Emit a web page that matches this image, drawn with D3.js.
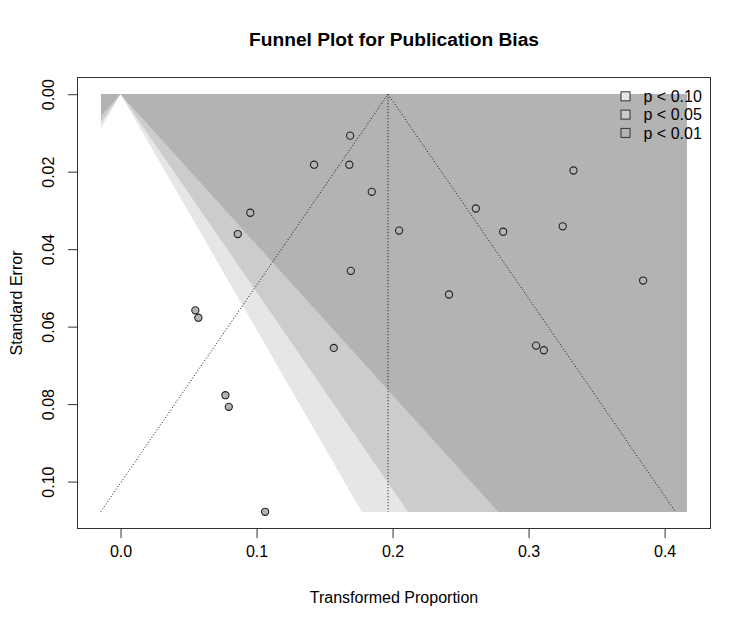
<!DOCTYPE html>
<html>
<head>
<meta charset="utf-8">
<script src="https://cdn.jsdelivr.net/npm/d3@7"></script>
<style>
  body { margin: 0; background: #fff; }
  svg text { font-family: "Liberation Sans", Arial, sans-serif; fill: #000; }
</style>
</head>
<body>
<div class="funnel"></div>
<script>
// study estimates (transformed proportions) and their standard errors
const yi = [0.1688, 0.1423, 0.1682, 0.1847, 0.0954, 0.0862, 0.2048, 0.2612, 0.3251, 0.3330, 0.2813,
            0.1693, 0.2415, 0.3842, 0.0550, 0.0572, 0.1568, 0.3055, 0.3112, 0.0771, 0.0796, 0.1063];
const sei = [0.0107, 0.0182, 0.0182, 0.0252, 0.0306, 0.0361, 0.0352, 0.0295, 0.0341, 0.0197, 0.0355,
             0.0456, 0.0517, 0.0481, 0.0558, 0.0577, 0.0655, 0.0649, 0.0661, 0.0777, 0.0807, 0.1078];
const estimate = 0.1967;
const xlim = [-0.0144, 0.4165];
const seMax = 0.1078;

// contour levels (z values), legend labels, shades
const contourZ = [1.645, 1.960, 2.576];
const legendLabels = ["p < 0.10", "p < 0.05", "p < 0.01"];
const shades = ["#e6e6e6", "#cccccc", "#b3b3b3"];

const xTicks = [0, 0.1, 0.2, 0.3, 0.4];
const yTicks = [0, 0.02, 0.04, 0.06, 0.08, 0.10];

var W = 750, H = 625;
var box = {left: 77.5, top: 77.5, right: 710.5, bottom: 528.5};

var svg = d3.select(".funnel").append("svg")
  .attr("width", W)
  .attr("height", H);

// R style 4% extension of the axis limits
var xr = xlim[1] - xlim[0];
var xScale = d3.scaleLinear()
  .domain([xlim[0] - 0.04 * xr, xlim[1] + 0.04 * xr])
  .range([box.left, box.right]);
var yScale = d3.scaleLinear()
  .domain([-0.04 * seMax, seMax * 1.04])
  .range([box.top, box.bottom]);

// whole-pixel shading area so the clipped edges stay clean
var sx0 = Math.round(xScale(xlim[0])), sx1 = Math.round(xScale(xlim[1]));
var sy0 = Math.round(yScale(0)), sy1 = Math.round(yScale(seMax));

svg.append("defs").append("clipPath")
  .attr("id", "shadeclip")
  .append("rect")
  .attr("x", sx0)
  .attr("y", sy0)
  .attr("width", sx1 - sx0)
  .attr("height", sy1 - sy0);

var shade = svg.append("g").attr("clip-path", "url(#shadeclip)");

// darkest background, then narrower triangles on top
shade.append("rect")
  .attr("x", sx0 - 2)
  .attr("y", sy0 - 2)
  .attr("width", sx1 - sx0 + 4)
  .attr("height", sy1 - sy0 + 4)
  .attr("fill", shades[2]);

// triangles run past the bottom so the clip gives a clean edge
var seFar = seMax * 1.2;
var triFill = [shades[1], shades[0], "#ffffff"];
var zOrder = [contourZ[2], contourZ[1], contourZ[0]];
zOrder.forEach(function(z, i) {
  var pts = [[-z * seFar, seFar], [0, 0], [z * seFar, seFar]];
  shade.append("polygon")
    .attr("points", pts.map(function(p) { return xScale(p[0]) + "," + yScale(p[1]); }).join(" "))
    .attr("fill", triFill[i]);
});

// pseudo confidence funnel around the estimate
var funnelPts = [[estimate - 1.96 * seMax, seMax], [estimate, 0], [estimate + 1.96 * seMax, seMax]];
svg.append("path")
  .attr("d", d3.line().x(function(d) { return xScale(d[0]); }).y(function(d) { return yScale(d[1]); })(funnelPts))
  .attr("fill", "none")
  .attr("stroke", "#111")
  .attr("stroke-width", 1)
  .attr("stroke-dasharray", "1,2");
svg.append("line")
  .attr("x1", xScale(estimate)).attr("x2", xScale(estimate))
  .attr("y1", yScale(0)).attr("y2", yScale(seMax))
  .attr("stroke", "#111")
  .attr("stroke-width", 1)
  .attr("stroke-dasharray", "1,2");

// studies
svg.selectAll(".pt")
  .data(yi.map(function(d, i) { return {x: d, se: sei[i]}; }))
  .enter()
  .append("circle")
  .attr("class", "pt")
  .attr("cx", function(d) { return xScale(d.x); })
  .attr("cy", function(d) { return yScale(d.se); })
  .attr("r", 3.6)
  .attr("fill", "#b3b3b3")
  .attr("stroke", "#222")
  .attr("stroke-width", 1.1);

// box
svg.append("rect")
  .attr("x", box.left).attr("y", box.top)
  .attr("width", box.right - box.left)
  .attr("height", box.bottom - box.top)
  .attr("fill", "none")
  .attr("stroke", "#333")
  .attr("stroke-width", 1);

// axes
var xAxis = svg.append("g")
  .attr("transform", "translate(0," + box.bottom + ")")
  .call(d3.axisBottom(xScale).tickValues(xTicks).tickFormat(d3.format(".1f"))
    .tickSize(9.6).tickSizeOuter(0).tickPadding(7.5));
xAxis.select(".domain").remove();
xAxis.selectAll("line").attr("stroke", "#333");
xAxis.selectAll("text").style("font-size", "16px").attr("fill", "#000");

var yAxis = svg.append("g")
  .attr("transform", "translate(" + box.left + ",0)")
  .call(d3.axisLeft(yScale).tickValues(yTicks).tickFormat(d3.format(".2f"))
    .tickSize(9.6).tickSizeOuter(0));
yAxis.select(".domain").remove();
yAxis.selectAll("line").attr("stroke", "#333");
yAxis.selectAll("text")
  .attr("x", null).attr("dy", null)
  .attr("transform", "translate(-23.5,0) rotate(-90)")
  .attr("text-anchor", "middle")
  .style("font-size", "16px")
  .attr("fill", "#000");

// titles
svg.append("text")
  .attr("x", (box.left + box.right) / 2)
  .attr("y", 46)
  .attr("text-anchor", "middle")
  .style("font-size", "19.2px")
  .style("font-weight", "bold")
  .text("Funnel Plot for Publication Bias");

svg.append("text")
  .attr("x", (box.left + box.right) / 2)
  .attr("y", 603)
  .attr("text-anchor", "middle")
  .style("font-size", "16px")
  .text("Transformed Proportion");

svg.append("text")
  .attr("transform", "translate(21.5," + (box.top + box.bottom) / 2 + ") rotate(-90)")
  .attr("text-anchor", "middle")
  .style("font-size", "16px")
  .text("Standard Error");

// legend (no frame, top right)
var leg = svg.append("g").attr("class", "legend");
legendLabels.forEach(function(lab, i) {
  var cy = box.top + 18.8 + i * 18.3;
  leg.append("rect")
    .attr("x", box.right - 89.5)
    .attr("y", cy - 4.5)
    .attr("width", 9)
    .attr("height", 9)
    .attr("fill", shades[i])
    .attr("stroke", "#333")
    .attr("stroke-width", 1);
  leg.append("text")
    .attr("x", box.right - 67)
    .attr("y", cy + 5.8)
    .style("font-size", "16px")
    .text(lab);
});
</script>
</body>
</html>
